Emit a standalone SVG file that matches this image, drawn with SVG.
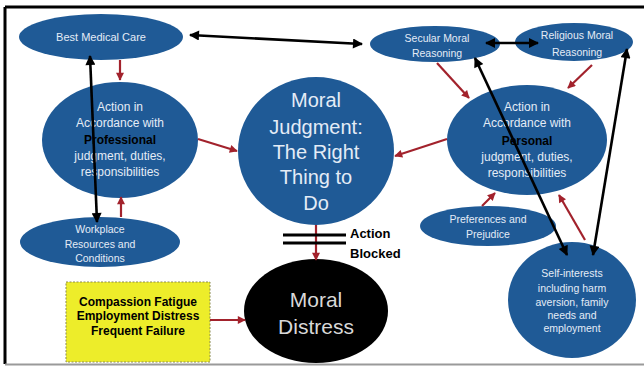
<svg xmlns="http://www.w3.org/2000/svg" width="644" height="366" viewBox="0 0 644 366">
<style>
.n{fill:#1f5a96}
.t{font-family:"Liberation Sans",Arial,sans-serif;fill:#e4ecf6;text-anchor:middle}
.b{font-family:"Liberation Sans",Arial,sans-serif;fill:#000;font-weight:bold}
.bk{stroke:#000;stroke-width:2.6;fill:none}
.rd{stroke:#a2222c;stroke-width:2.2;fill:none}
</style>
<defs>
<marker id="ak" viewBox="0 0 10 10" refX="9" refY="5" markerWidth="12" markerHeight="10" markerUnits="userSpaceOnUse" orient="auto-start-reverse"><path d="M0,0 L10,5 L0,10 z" fill="#000"/></marker>
<marker id="ar" viewBox="0 0 10 10" refX="9" refY="5" markerWidth="9" markerHeight="8" markerUnits="userSpaceOnUse" orient="auto"><path d="M0,0 L10,5 L0,10 z" fill="#a2222c"/></marker>
</defs>
<rect width="644" height="366" fill="#fff"/>
<g id="frame">
<path d="M5,7 H644" stroke="#000" stroke-width="3"/>
<path d="M5,7 V364" stroke="#000" stroke-width="3"/>
<path d="M5,364.5 H644" stroke="#9a9a9a" stroke-width="2"/>
</g>
<g id="best-medical-care">
<ellipse class="n" cx="101" cy="37" rx="82" ry="23"/>
<text class="t" x="101" y="41" font-size="11">Best Medical Care</text>
</g>
<g id="action-professional">
<ellipse class="n" cx="120" cy="140" rx="78" ry="58"/>
<text class="t" font-size="12"><tspan x="120" y="111">Action in</tspan><tspan x="120" y="127">Accordance with</tspan><tspan x="120" y="144" fill="#000" font-weight="bold">Professional</tspan><tspan x="120" y="160">judgment, duties,</tspan><tspan x="120" y="176">responsibilities</tspan></text>
</g>
<g id="workplace">
<ellipse class="n" cx="100" cy="242" rx="80" ry="25"/>
<text class="t" font-size="10.5"><tspan x="100" y="233">Workplace</tspan><tspan x="100" y="248">Resources and</tspan><tspan x="100" y="262">Conditions</tspan></text>
</g>
<g id="moral-judgment">
<ellipse class="n" cx="316" cy="151" rx="78" ry="74"/>
<text class="t" font-size="20"><tspan x="316" y="107">Moral</tspan><tspan x="316" y="134">Judgment:</tspan><tspan x="316" y="159">The Right</tspan><tspan x="316" y="184">Thing to</tspan><tspan x="316" y="210">Do</tspan></text>
</g>
<g id="secular">
<ellipse class="n" cx="435" cy="44" rx="65" ry="18"/>
<text class="t" font-size="10.5"><tspan x="437" y="42">Secular Moral</tspan><tspan x="437" y="57">Reasoning</tspan></text>
</g>
<g id="religious">
<ellipse class="n" cx="574" cy="42" rx="59" ry="19"/>
<text class="t" font-size="10.5"><tspan x="577" y="39">Religious Moral</tspan><tspan x="577" y="56">Reasoning</tspan></text>
</g>
<g id="action-personal">
<ellipse class="n" cx="527" cy="140" rx="80" ry="55"/>
<text class="t" font-size="12"><tspan x="527" y="111">Action in</tspan><tspan x="527" y="127">Accordance with</tspan><tspan x="527" y="145" fill="#000" font-weight="bold">Personal</tspan><tspan x="527" y="161">judgment, duties,</tspan><tspan x="527" y="177">responsibilities</tspan></text>
</g>
<g id="preferences">
<ellipse class="n" cx="488" cy="226" rx="68" ry="20"/>
<text class="t" font-size="10.5"><tspan x="488" y="223">Preferences and</tspan><tspan x="488" y="238">Prejudice</tspan></text>
</g>
<g id="self-interests">
<ellipse class="n" cx="572" cy="300" rx="64" ry="58"/>
<text class="t" font-size="10.5"><tspan x="572" y="277">Self-interests</tspan><tspan x="572" y="292">including harm</tspan><tspan x="572" y="306">aversion, family</tspan><tspan x="572" y="319">needs and</tspan><tspan x="572" y="332">employment</tspan></text>
</g>
<g id="moral-distress">
<ellipse cx="316" cy="311" rx="72" ry="52" fill="#000"/>
<text class="t" font-size="21" fill="#d8d8d8" style="fill:#d8d8d8"><tspan x="316" y="307">Moral</tspan><tspan x="316" y="334">Distress</tspan></text>
</g>
<g id="factors">
<rect x="66" y="282" width="144" height="80" fill="#eded2a" stroke="#8a8a50" stroke-width="1" stroke-dasharray="2,1.5"/>
<text class="b" font-size="12" text-anchor="middle"><tspan x="138" y="306">Compassion Fatigue</tspan><tspan x="138" y="320">Employment Distress</tspan><tspan x="138" y="335">Frequent Failure</tspan></text>
</g>
<g id="connectors">
<path class="bk" d="M190,35 L362,44" marker-start="url(#ak)" marker-end="url(#ak)"/>
<path class="bk" d="M486,43 L538,43" marker-start="url(#ak)" marker-end="url(#ak)"/>
<path class="bk" d="M90,56 L97,222" marker-start="url(#ak)" marker-end="url(#ak)"/>
<path class="bk" d="M475,58 L567,255" marker-start="url(#ak)" marker-end="url(#ak)"/>
<path class="bk" d="M627,49 L593,255" marker-start="url(#ak)" marker-end="url(#ak)"/>
<path class="rd" d="M120,60 L120,80" marker-end="url(#ar)"/>
<path class="rd" d="M121,217 L121,197" marker-end="url(#ar)"/>
<path class="rd" d="M198,139 L237,151" marker-end="url(#ar)"/>
<path class="rd" d="M447,139 L395,156" marker-end="url(#ar)"/>
<path class="rd" d="M437,63 L469,98" marker-end="url(#ar)"/>
<path class="rd" d="M592,65 L568,88" marker-end="url(#ar)"/>
<path class="rd" d="M482,206 L495,193" marker-end="url(#ar)"/>
<path class="rd" d="M585,240 L559,195" marker-end="url(#ar)"/>
<path class="rd" d="M316,225 L316,260" marker-end="url(#ar)"/>
<path class="rd" d="M210,320 L245,320" marker-end="url(#ar)"/>
<path d="M283,235 H346 M283,243 H346" stroke="#000" stroke-width="3"/>
</g>
<g id="blocked-label">
<text class="b" font-size="13"><tspan x="350" y="238">Action</tspan><tspan x="350" y="258">Blocked</tspan></text>
</g>
</svg>
